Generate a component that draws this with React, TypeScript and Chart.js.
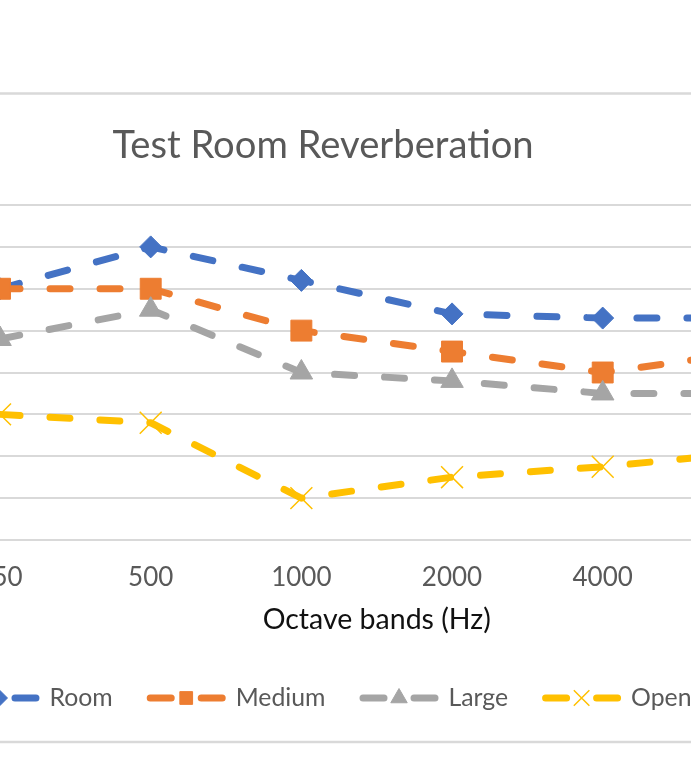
import { useEffect, useRef } from 'react';
import { Chart, registerables } from 'chart.js';
import { drawPoint } from 'chart.js/helpers';

Chart.register(...registerables);

// ---- data ----
const categories = ['250', '500', '1000', '2000', '4000', '8000'];
const roomValues = [0.6, 0.7, 0.62, 0.54, 0.53, 0.53];
const mediumValues = [0.6, 0.6, 0.5, 0.45, 0.4, 0.45];
const largeValues = [0.48, 0.55, 0.4, 0.38, 0.35, 0.35];
const openValues = [0.3, 0.28, 0.1, 0.15, 0.175, 0.21];
const seriesNames = ['Room', 'Medium', 'Large', 'Open'];
const yMin = 0;
const yMax = 0.8;
const yStep = 0.1;
const chartTitle = 'Test Room Reverberation';
const xAxisTitle = 'Octave bands (Hz)';

// ---- styles ----
const FONT = 'Lato, "Open Sans", sans-serif';
const colors = ['#4472C4', '#ED7D31', '#A5A5A5', '#FFC000'];
const markerStyles = ['rectRot', 'rect', 'triangle', 'crossRot'];
const markerRadius = [11, 14.8, 13, 15.5];
const legendMarkerRadius = [7.5, 9, 9.5, 11];
const markerBorder = [1, 1, 1, 1.5];

const FRAME_W = 1126;
const FRAME_H = 652;
const FRAME_LEFT = -240;
const FRAME_TOP = 92;

const decorPlugin = {
  id: 'excelDecor',
  afterDraw(chart: any) {
    const { ctx, width, height } = chart;
    ctx.save();
    // chart border
    ctx.strokeStyle = '#d9d9d9';
    ctx.lineWidth = 2.5;
    ctx.setLineDash([]);
    ctx.strokeRect(1.5, 1.5, width - 3, height - 3.5);

    // title
    ctx.fillStyle = '#595959';
    ctx.font = `38.2px ${FONT}`;
    ctx.textAlign = 'center';
    ctx.textBaseline = 'alphabetic';
    ctx.fillText(chartTitle, width / 2, 66);

    // legend
    const datasets = chart.data.datasets;
    ctx.font = `24.8px ${FONT}`;
    const sampleW = 79;
    const gapText = 10;
    const gapItem = 34;
    const widths = datasets.map((d: any) => sampleW + gapText + ctx.measureText(d.label).width);
    const total = widths.reduce((a: number, b: number) => a + b, 0) + gapItem * (datasets.length - 1);
    let x = width / 2 + 3 - total / 2;
    const yLine = 606;
    const yText = 614;
    datasets.forEach((d: any, i: number) => {
      ctx.strokeStyle = d.borderColor;
      ctx.fillStyle = d.borderColor;
      ctx.lineWidth = 7;
      ctx.lineCap = 'round';
      ctx.beginPath();
      ctx.moveTo(x + 3.5, yLine);
      ctx.lineTo(x + 24.5, yLine);
      ctx.moveTo(x + 54.5, yLine);
      ctx.lineTo(x + 75.5, yLine);
      ctx.stroke();
      ctx.lineCap = 'butt';
      ctx.lineWidth = markerBorder[i];
      drawPoint(ctx, { pointStyle: d.pointStyle, rotation: 0, radius: legendMarkerRadius[i], borderWidth: markerBorder[i] } as any, x + 39.5, yLine);
      ctx.fillStyle = '#595959';
      ctx.textAlign = 'left';
      ctx.textBaseline = 'alphabetic';
      ctx.fillText(d.label, x + sampleW + gapText, yText);
      x += widths[i] + gapItem;
    });
    ctx.restore();
  },
};

const seriesValues = [roomValues, mediumValues, largeValues, openValues];

export default function App() {
  const ref = useRef<HTMLCanvasElement>(null);
  useEffect(() => {
    if (!ref.current) return;
    const chart = new Chart(ref.current, {
      type: 'line',
      data: {
        labels: categories,
        datasets: seriesValues.map((vals, i) => ({
          label: seriesNames[i],
          data: vals,
          borderColor: colors[i],
          backgroundColor: colors[i],
          borderWidth: 7,
          borderDash: [20, 30],
          borderCapStyle: 'round',
          borderJoinStyle: 'round',
          tension: 0,
          fill: false,
          pointStyle: markerStyles[i],
          pointRadius: markerRadius[i],
          pointBackgroundColor: colors[i],
          pointBorderColor: colors[i],
          pointBorderWidth: markerBorder[i],
          order: seriesNames.length - i,
        })) as any,
      },
      options: {
        responsive: false,
        animation: false,
        events: [],
        layout: { padding: { left: 164.7, right: 57.3, top: 113, bottom: 104 } },
        plugins: {
          legend: { display: false },
          title: { display: false },
          tooltip: { enabled: false },
        },
        scales: {
          x: {
            type: 'category',
            offset: true,
            grid: { display: false, drawTicks: false },
            border: { display: true, color: '#d9d9d9', width: 2 },
            ticks: {
              color: '#595959',
              font: { family: FONT, size: 26 },
              padding: 22,
              maxRotation: 0,
              autoSkip: false,
            },
            title: {
              display: true,
              text: xAxisTitle,
              color: '#111111',
              font: { family: FONT, size: 28.5 },
              padding: { top: 0, bottom: 3 },
            },
            afterFit: (s: any) => {
              s.height = 100;
            },
          },
          y: {
            min: yMin,
            max: yMax,
            ticks: { display: false, stepSize: yStep },
            grid: { color: '#d9d9d9', lineWidth: 2, drawTicks: false },
            border: { display: false },
            afterFit: (s: any) => {
              s.width = 0;
            },
          },
        },
      },
      plugins: [decorPlugin],
    } as any);
    return () => chart.destroy();
  }, []);

  return (
    <div
      style={{
        position: 'fixed',
        left: 0,
        top: 0,
        width: 691,
        height: 758,
        overflow: 'hidden',
        background: '#ffffff',
      }}
    >
      <div style={{ position: 'absolute', left: FRAME_LEFT, top: FRAME_TOP, width: FRAME_W, height: FRAME_H }}>
        <canvas
          ref={ref}
          width={FRAME_W}
          height={FRAME_H}
          style={{ display: 'block', width: FRAME_W, height: FRAME_H }}
        />
      </div>
    </div>
  );
}
